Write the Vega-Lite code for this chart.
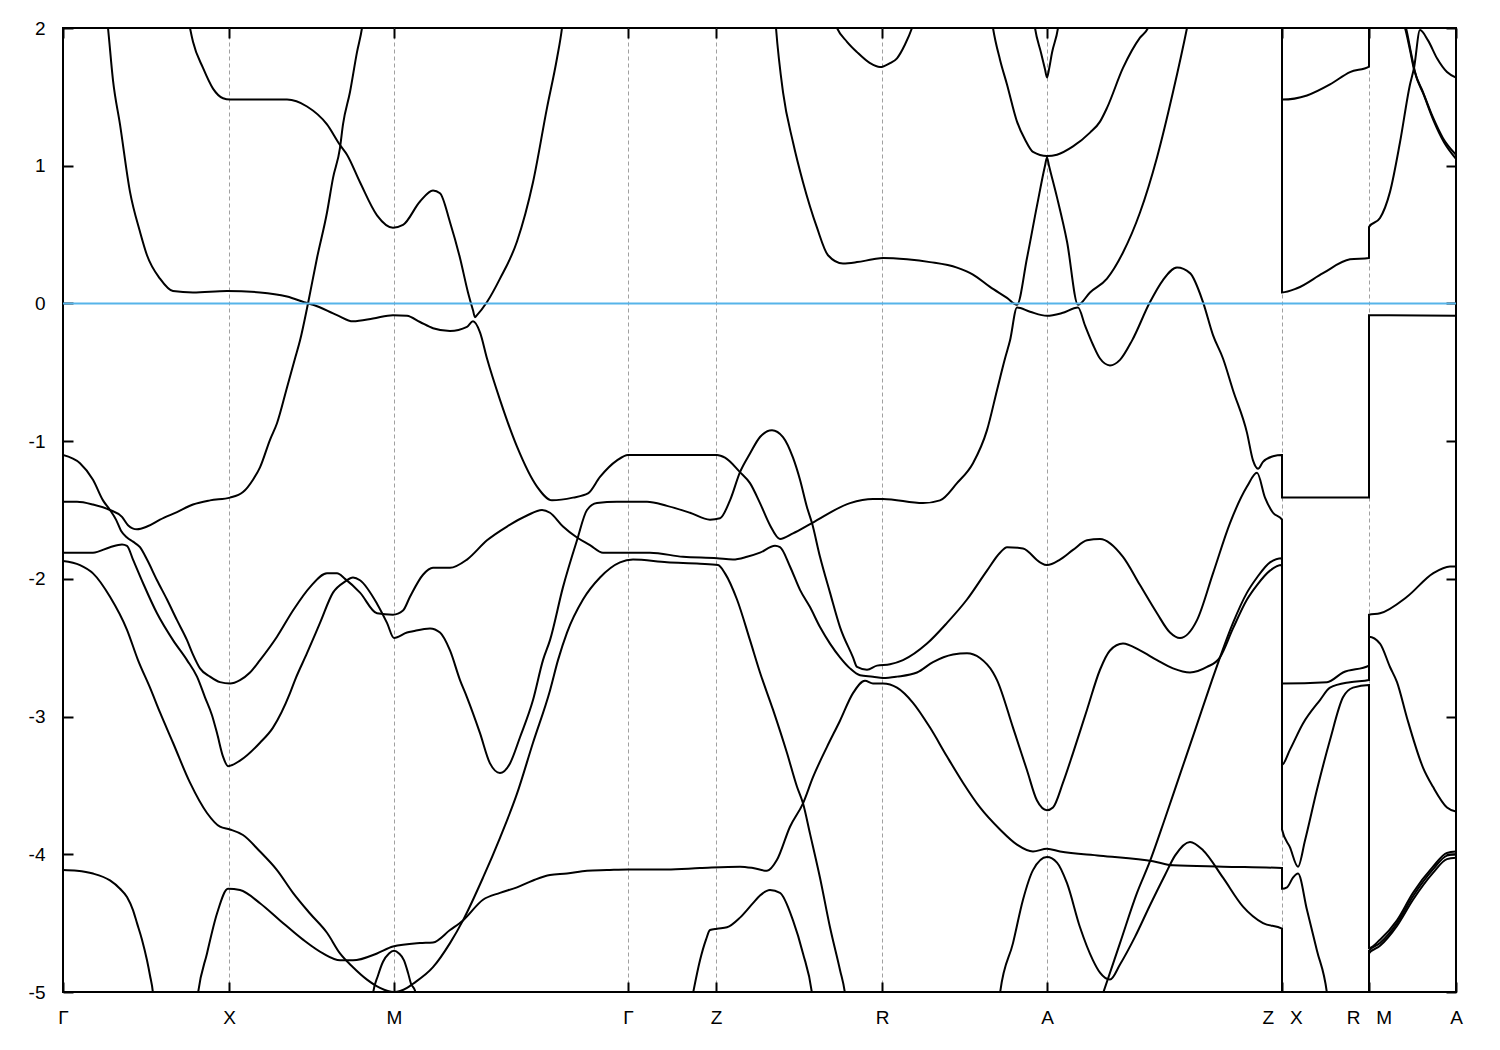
{
"$schema": "https://vega.github.io/schema/vega-lite/v6.json",
"width": 1393, "height": 964,
"autosize": {"type": "none"},
"padding": {"left": 63, "top": 28, "right": 44, "bottom": 58},
"background": "white",
"config": {"view": {"stroke": "black", "strokeWidth": 2}, "font": "Liberation Sans"},
"data": {"values": [
{"s":"a","k":37,"E":2.5},{"s":"a","k":45,"E":2.0},{"s":"a","k":50,"E":1.62},{"s":"a","k":57,"E":1.3},{"s":"a","k":67,"E":0.81},{"s":"a","k":77,"E":0.52},{"s":"a","k":84,"E":0.35},{"s":"a","k":97,"E":0.18},{"s":"a","k":110,"E":0.09},{"s":"a","k":130,"E":0.08},{"s":"a","k":164,"E":0.09},{"s":"a","k":197,"E":0.08},{"s":"a","k":224,"E":0.05},{"s":"a","k":245,"E":0.0},{"s":"a","k":250,"E":-0.01},{"s":"a","k":274,"E":-0.085},{"s":"a","k":290,"E":-0.13},{"s":"a","k":310,"E":-0.11},{"s":"a","k":330,"E":-0.085},{"s":"a","k":344,"E":-0.09},{"s":"a","k":357,"E":-0.135},{"s":"a","k":370,"E":-0.18},{"s":"a","k":387,"E":-0.2},{"s":"a","k":404,"E":-0.17},{"s":"a","k":410,"E":-0.13},{"s":"a","k":417,"E":-0.21},{"s":"a","k":424,"E":-0.4},{"s":"a","k":437,"E":-0.7},{"s":"a","k":454,"E":-1.04},{"s":"a","k":474,"E":-1.33},{"s":"a","k":489,"E":-1.43},{"s":"a","k":510,"E":-1.41},{"s":"a","k":525,"E":-1.38},{"s":"a","k":537,"E":-1.26},{"s":"a","k":554,"E":-1.14},{"s":"a","k":565,"E":-1.1},{"s":"a","k":604,"E":-1.1},{"s":"a","k":654,"E":-1.1},{"s":"a","k":662,"E":-1.12},{"s":"a","k":677,"E":-1.225},{"s":"a","k":687,"E":-1.305},{"s":"a","k":697,"E":-1.45},{"s":"a","k":707,"E":-1.61},{"s":"a","k":717,"E":-1.71},{"s":"a","k":730,"E":-1.67},{"s":"a","k":749,"E":-1.595},{"s":"a","k":787,"E":-1.45},{"s":"a","k":810,"E":-1.42},{"s":"a","k":820,"E":-1.42},{"s":"a","k":860,"E":-1.45},{"s":"a","k":877,"E":-1.43},{"s":"a","k":894,"E":-1.305},{"s":"a","k":910,"E":-1.16},{"s":"a","k":924,"E":-0.92},{"s":"a","k":934,"E":-0.63},{"s":"a","k":942,"E":-0.4},{"s":"a","k":947,"E":-0.27},{"s":"a","k":954,"E":-0.03},{"s":"a","k":967,"E":-0.06},{"s":"a","k":984,"E":-0.09},{"s":"a","k":999,"E":-0.07},{"s":"a","k":1015,"E":-0.03},{"s":"a","k":1022,"E":-0.16},{"s":"a","k":1030,"E":-0.3},{"s":"a","k":1037,"E":-0.4},{"s":"a","k":1047,"E":-0.45},{"s":"a","k":1057,"E":-0.41},{"s":"a","k":1069,"E":-0.27},{"s":"a","k":1087,"E":0.01},{"s":"a","k":1100,"E":0.17},{"s":"a","k":1114,"E":0.26},{"s":"a","k":1127,"E":0.22},{"s":"a","k":1140,"E":0.01},{"s":"a","k":1150,"E":-0.23},{"s":"a","k":1160,"E":-0.4},{"s":"a","k":1170,"E":-0.63},{"s":"a","k":1184,"E":-0.94},{"s":"a","k":1190,"E":-1.14},{"s":"a","k":1195,"E":-1.2},{"s":"a","k":1200,"E":-1.15},{"s":"a","k":1210,"E":-1.11},{"s":"a","k":1219,"E":-1.1},{"s":"a","k":1219,"E":-1.41},{"s":"a","k":1234,"E":-1.41},{"s":"a","k":1267,"E":-1.41},{"s":"a","k":1306,"E":-1.41},{"s":"a","k":1306,"E":-0.085},{"s":"a","k":1319,"E":-0.085},{"s":"a","k":1393,"E":-0.09},
{"s":"b","k":0,"E":-1.44},{"s":"b","k":14,"E":-1.44},{"s":"b","k":30,"E":-1.46},{"s":"b","k":47,"E":-1.5},{"s":"b","k":59,"E":-1.55},{"s":"b","k":65,"E":-1.61},{"s":"b","k":74,"E":-1.64},{"s":"b","k":84,"E":-1.62},{"s":"b","k":97,"E":-1.57},{"s":"b","k":114,"E":-1.515},{"s":"b","k":130,"E":-1.46},{"s":"b","k":147,"E":-1.43},{"s":"b","k":167,"E":-1.41},{"s":"b","k":180,"E":-1.37},{"s":"b","k":190,"E":-1.28},{"s":"b","k":197,"E":-1.19},{"s":"b","k":207,"E":-0.99},{"s":"b","k":214,"E":-0.87},{"s":"b","k":224,"E":-0.61},{"s":"b","k":232,"E":-0.4},{"s":"b","k":237,"E":-0.27},{"s":"b","k":245,"E":0.0},{"s":"b","k":254,"E":0.33},{"s":"b","k":264,"E":0.66},{"s":"b","k":270,"E":0.91},{"s":"b","k":277,"E":1.13},{"s":"b","k":280,"E":1.3},{"s":"b","k":287,"E":1.535},{"s":"b","k":294,"E":1.825},{"s":"b","k":299,"E":2.0},{"s":"b","k":304,"E":2.3},
{"s":"c","k":122,"E":2.2},{"s":"c","k":127,"E":2.0},{"s":"c","k":130,"E":1.9},{"s":"c","k":140,"E":1.71},{"s":"c","k":150,"E":1.56},{"s":"c","k":160,"E":1.49},{"s":"c","k":167,"E":1.48},{"s":"c","k":197,"E":1.48},{"s":"c","k":224,"E":1.48},{"s":"c","k":244,"E":1.43},{"s":"c","k":264,"E":1.3},{"s":"c","k":277,"E":1.15},{"s":"c","k":284,"E":1.08},{"s":"c","k":297,"E":0.88},{"s":"c","k":314,"E":0.64},{"s":"c","k":330,"E":0.55},{"s":"c","k":340,"E":0.57},{"s":"c","k":357,"E":0.74},{"s":"c","k":370,"E":0.82},{"s":"c","k":377,"E":0.8},{"s":"c","k":387,"E":0.59},{"s":"c","k":397,"E":0.33},{"s":"c","k":405,"E":0.08},{"s":"c","k":410,"E":-0.05},{"s":"c","k":412,"E":-0.1},{"s":"c","k":414,"E":-0.085},{"s":"c","k":424,"E":0.01},{"s":"c","k":437,"E":0.18},{"s":"c","k":454,"E":0.45},{"s":"c","k":470,"E":0.88},{"s":"c","k":484,"E":1.42},{"s":"c","k":494,"E":1.78},{"s":"c","k":499,"E":2.0},{"s":"c","k":502,"E":2.2},
{"s":"d","k":711,"E":2.2},{"s":"d","k":713,"E":2.0},{"s":"d","k":720,"E":1.535},{"s":"d","k":730,"E":1.17},{"s":"d","k":740,"E":0.88},{"s":"d","k":754,"E":0.55},{"s":"d","k":765,"E":0.35},{"s":"d","k":780,"E":0.29},{"s":"d","k":794,"E":0.3},{"s":"d","k":810,"E":0.32},{"s":"d","k":820,"E":0.33},{"s":"d","k":844,"E":0.32},{"s":"d","k":867,"E":0.3},{"s":"d","k":894,"E":0.26},{"s":"d","k":910,"E":0.21},{"s":"d","k":927,"E":0.12},{"s":"d","k":944,"E":0.04},{"s":"d","k":954,"E":-0.01},{"s":"d","k":964,"E":0.33},{"s":"d","k":974,"E":0.71},{"s":"d","k":982,"E":1.0},{"s":"d","k":984,"E":1.06},{"s":"d","k":986,"E":1.0},{"s":"d","k":994,"E":0.77},{"s":"d","k":1004,"E":0.45},{"s":"d","k":1015,"E":-0.01},{"s":"d","k":1027,"E":0.08},{"s":"d","k":1044,"E":0.18},{"s":"d","k":1060,"E":0.37},{"s":"d","k":1077,"E":0.66},{"s":"d","k":1094,"E":1.06},{"s":"d","k":1110,"E":1.535},{"s":"d","k":1124,"E":2.0},{"s":"d","k":1132,"E":2.3},{"s":"d","k":1219,"E":3.5},{"s":"d","k":1219,"E":0.08},{"s":"d","k":1234,"E":0.11},{"s":"d","k":1260,"E":0.22},{"s":"d","k":1287,"E":0.32},{"s":"d","k":1306,"E":0.33},{"s":"d","k":1306,"E":0.555},{"s":"d","k":1317,"E":0.62},{"s":"d","k":1327,"E":0.81},{"s":"d","k":1337,"E":1.17},{"s":"d","k":1347,"E":1.59},{"s":"d","k":1351,"E":1.71},{"s":"d","k":1357,"E":1.985},{"s":"d","k":1365,"E":1.91},{"s":"d","k":1374,"E":1.78},{"s":"d","k":1384,"E":1.68},{"s":"d","k":1393,"E":1.64},
{"s":"e","k":1219,"E":3.5},{"s":"e","k":1219,"E":1.48},{"s":"e","k":1244,"E":1.51},{"s":"e","k":1267,"E":1.59},{"s":"e","k":1287,"E":1.68},{"s":"e","k":1306,"E":1.72},{"s":"e","k":1306,"E":2.6},{"s":"e","k":1335,"E":2.1},{"s":"e","k":1342,"E":2.0},{"s":"e","k":1347,"E":1.84},{"s":"e","k":1351,"E":1.7},{"s":"e","k":1360,"E":1.535},{"s":"e","k":1370,"E":1.35},{"s":"e","k":1380,"E":1.2},{"s":"e","k":1393,"E":1.08},
{"s":"f","k":1306,"E":2.6},{"s":"f","k":1336,"E":2.1},{"s":"f","k":1343,"E":2.0},{"s":"f","k":1348,"E":1.82},{"s":"f","k":1352,"E":1.68},{"s":"f","k":1361,"E":1.51},{"s":"f","k":1371,"E":1.32},{"s":"f","k":1381,"E":1.17},{"s":"f","k":1393,"E":1.05},
{"s":"g","k":767,"E":2.15},{"s":"g","k":774,"E":2.0},{"s":"g","k":784,"E":1.9},{"s":"g","k":794,"E":1.825},{"s":"g","k":807,"E":1.745},{"s":"g","k":817,"E":1.716},{"s":"g","k":827,"E":1.745},{"s":"g","k":834,"E":1.78},{"s":"g","k":842,"E":1.88},{"s":"g","k":849,"E":2.0},{"s":"g","k":855,"E":2.15},
{"s":"h","k":967,"E":2.3},{"s":"h","k":972,"E":2.0},{"s":"h","k":978,"E":1.82},{"s":"h","k":982,"E":1.7},{"s":"h","k":984,"E":1.64},{"s":"h","k":986,"E":1.7},{"s":"h","k":989,"E":1.82},{"s":"h","k":995,"E":2.0},{"s":"h","k":1000,"E":2.3},
{"s":"i","k":927,"E":2.15},{"s":"i","k":930,"E":2.0},{"s":"i","k":937,"E":1.77},{"s":"i","k":944,"E":1.59},{"s":"i","k":954,"E":1.32},{"s":"i","k":962,"E":1.19},{"s":"i","k":970,"E":1.1},{"s":"i","k":984,"E":1.07},{"s":"i","k":994,"E":1.08},{"s":"i","k":1010,"E":1.14},{"s":"i","k":1027,"E":1.24},{"s":"i","k":1037,"E":1.32},{"s":"i","k":1044,"E":1.42},{"s":"i","k":1060,"E":1.71},{"s":"i","k":1077,"E":1.93},{"s":"i","k":1085,"E":2.0},{"s":"i","k":1090,"E":2.1},
{"s":"j","k":0,"E":-1.1},{"s":"j","k":17,"E":-1.16},{"s":"j","k":30,"E":-1.28},{"s":"j","k":40,"E":-1.43},{"s":"j","k":47,"E":-1.5},{"s":"j","k":53,"E":-1.57},{"s":"j","k":58,"E":-1.65},{"s":"j","k":64,"E":-1.7},{"s":"j","k":70,"E":-1.73},{"s":"j","k":77,"E":-1.77},{"s":"j","k":84,"E":-1.86},{"s":"j","k":94,"E":-2.01},{"s":"j","k":104,"E":-2.15},{"s":"j","k":114,"E":-2.3},{"s":"j","k":124,"E":-2.445},{"s":"j","k":130,"E":-2.55},{"s":"j","k":137,"E":-2.65},{"s":"j","k":147,"E":-2.71},{"s":"j","k":157,"E":-2.75},{"s":"j","k":167,"E":-2.76},{"s":"j","k":177,"E":-2.735},{"s":"j","k":187,"E":-2.68},{"s":"j","k":197,"E":-2.59},{"s":"j","k":214,"E":-2.42},{"s":"j","k":230,"E":-2.23},{"s":"j","k":247,"E":-2.06},{"s":"j","k":264,"E":-1.96},{"s":"j","k":274,"E":-1.96},{"s":"j","k":282,"E":-2.0},{"s":"j","k":297,"E":-2.1},{"s":"j","k":314,"E":-2.25},{"s":"j","k":330,"E":-2.26},{"s":"j","k":340,"E":-2.23},{"s":"j","k":347,"E":-2.13},{"s":"j","k":360,"E":-1.97},{"s":"j","k":370,"E":-1.92},{"s":"j","k":387,"E":-1.92},{"s":"j","k":404,"E":-1.86},{"s":"j","k":424,"E":-1.72},{"s":"j","k":444,"E":-1.62},{"s":"j","k":464,"E":-1.54},{"s":"j","k":479,"E":-1.5},{"s":"j","k":487,"E":-1.52},{"s":"j","k":500,"E":-1.62},{"s":"j","k":514,"E":-1.7},{"s":"j","k":527,"E":-1.755},{"s":"j","k":540,"E":-1.81},{"s":"j","k":564,"E":-1.81},{"s":"j","k":587,"E":-1.81},{"s":"j","k":620,"E":-1.84},{"s":"j","k":654,"E":-1.85},{"s":"j","k":670,"E":-1.86},{"s":"j","k":684,"E":-1.84},{"s":"j","k":697,"E":-1.81},{"s":"j","k":712,"E":-1.76},{"s":"j","k":717,"E":-1.77},{"s":"j","k":727,"E":-1.91},{"s":"j","k":737,"E":-2.08},{"s":"j","k":747,"E":-2.205},{"s":"j","k":757,"E":-2.35},{"s":"j","k":767,"E":-2.47},{"s":"j","k":777,"E":-2.57},{"s":"j","k":787,"E":-2.65},{"s":"j","k":797,"E":-2.7},{"s":"j","k":810,"E":-2.71},{"s":"j","k":820,"E":-2.72},{"s":"j","k":834,"E":-2.71},{"s":"j","k":854,"E":-2.68},{"s":"j","k":870,"E":-2.605},{"s":"j","k":890,"E":-2.55},{"s":"j","k":904,"E":-2.54},{"s":"j","k":917,"E":-2.575},{"s":"j","k":930,"E":-2.68},{"s":"j","k":934,"E":-2.735},{"s":"j","k":950,"E":-3.08},{"s":"j","k":964,"E":-3.39},{"s":"j","k":974,"E":-3.61},{"s":"j","k":984,"E":-3.68},{"s":"j","k":990,"E":-3.66},{"s":"j","k":1000,"E":-3.48},{"s":"j","k":1010,"E":-3.265},{"s":"j","k":1024,"E":-2.95},{"s":"j","k":1037,"E":-2.66},{"s":"j","k":1047,"E":-2.52},{"s":"j","k":1060,"E":-2.47},{"s":"j","k":1077,"E":-2.52},{"s":"j","k":1094,"E":-2.59},{"s":"j","k":1110,"E":-2.65},{"s":"j","k":1127,"E":-2.68},{"s":"j","k":1144,"E":-2.64},{"s":"j","k":1157,"E":-2.57},{"s":"j","k":1170,"E":-2.36},{"s":"j","k":1184,"E":-2.15},{"s":"j","k":1194,"E":-2.045},{"s":"j","k":1207,"E":-1.94},{"s":"j","k":1219,"E":-1.9},{"s":"j","k":1219,"E":-3.82},{"s":"j","k":1227,"E":-3.95},{"s":"j","k":1235,"E":-4.09},{"s":"j","k":1242,"E":-3.9},{"s":"j","k":1254,"E":-3.53},{"s":"j","k":1267,"E":-3.17},{"s":"j","k":1280,"E":-2.86},{"s":"j","k":1290,"E":-2.79},{"s":"j","k":1306,"E":-2.77},{"s":"j","k":1306,"E":-4.68},{"s":"j","k":1317,"E":-4.62},{"s":"j","k":1334,"E":-4.48},{"s":"j","k":1350,"E":-4.28},{"s":"j","k":1370,"E":-4.09},{"s":"j","k":1384,"E":-3.99},{"s":"j","k":1393,"E":-3.98},
{"s":"k","k":0,"E":-1.81},{"s":"k","k":14,"E":-1.81},{"s":"k","k":30,"E":-1.81},{"s":"k","k":47,"E":-1.77},{"s":"k","k":59,"E":-1.75},{"s":"k","k":64,"E":-1.76},{"s":"k","k":70,"E":-1.86},{"s":"k","k":80,"E":-2.03},{"s":"k","k":94,"E":-2.25},{"s":"k","k":110,"E":-2.445},{"s":"k","k":124,"E":-2.59},{"s":"k","k":134,"E":-2.71},{"s":"k","k":142,"E":-2.86},{"s":"k","k":149,"E":-2.99},{"s":"k","k":154,"E":-3.12},{"s":"k","k":160,"E":-3.29},{"s":"k","k":165,"E":-3.36},{"s":"k","k":177,"E":-3.32},{"s":"k","k":197,"E":-3.19},{"s":"k","k":210,"E":-3.08},{"s":"k","k":227,"E":-2.83},{"s":"k","k":232,"E":-2.735},{"s":"k","k":244,"E":-2.54},{"s":"k","k":257,"E":-2.32},{"s":"k","k":270,"E":-2.1},{"s":"k","k":282,"E":-2.02},{"s":"k","k":290,"E":-1.99},{"s":"k","k":297,"E":-2.01},{"s":"k","k":314,"E":-2.18},{"s":"k","k":324,"E":-2.32},{"s":"k","k":331,"E":-2.43},{"s":"k","k":344,"E":-2.39},{"s":"k","k":350,"E":-2.38},{"s":"k","k":367,"E":-2.36},{"s":"k","k":377,"E":-2.39},{"s":"k","k":387,"E":-2.52},{"s":"k","k":397,"E":-2.735},{"s":"k","k":404,"E":-2.86},{"s":"k","k":417,"E":-3.12},{"s":"k","k":427,"E":-3.34},{"s":"k","k":437,"E":-3.41},{"s":"k","k":447,"E":-3.34},{"s":"k","k":457,"E":-3.15},{"s":"k","k":470,"E":-2.88},{"s":"k","k":480,"E":-2.59},{"s":"k","k":487,"E":-2.445},{"s":"k","k":500,"E":-2.06},{"s":"k","k":514,"E":-1.72},{"s":"k","k":524,"E":-1.5},{"s":"k","k":534,"E":-1.45},{"s":"k","k":554,"E":-1.44},{"s":"k","k":584,"E":-1.44},{"s":"k","k":604,"E":-1.47},{"s":"k","k":627,"E":-1.52},{"s":"k","k":647,"E":-1.57},{"s":"k","k":657,"E":-1.56},{"s":"k","k":667,"E":-1.43},{"s":"k","k":677,"E":-1.225},{"s":"k","k":687,"E":-1.09},{"s":"k","k":697,"E":-0.97},{"s":"k","k":709,"E":-0.92},{"s":"k","k":720,"E":-0.97},{"s":"k","k":730,"E":-1.12},{"s":"k","k":737,"E":-1.28},{"s":"k","k":744,"E":-1.48},{"s":"k","k":749,"E":-1.595},{"s":"k","k":757,"E":-1.84},{"s":"k","k":767,"E":-2.1},{"s":"k","k":777,"E":-2.35},{"s":"k","k":790,"E":-2.57},{"s":"k","k":794,"E":-2.64},{"s":"k","k":804,"E":-2.66},{"s":"k","k":814,"E":-2.63},{"s":"k","k":827,"E":-2.62},{"s":"k","k":840,"E":-2.59},{"s":"k","k":864,"E":-2.47},{"s":"k","k":884,"E":-2.32},{"s":"k","k":904,"E":-2.15},{"s":"k","k":924,"E":-1.94},{"s":"k","k":937,"E":-1.81},{"s":"k","k":944,"E":-1.77},{"s":"k","k":960,"E":-1.78},{"s":"k","k":977,"E":-1.88},{"s":"k","k":984,"E":-1.9},{"s":"k","k":997,"E":-1.86},{"s":"k","k":1010,"E":-1.79},{"s":"k","k":1024,"E":-1.72},{"s":"k","k":1037,"E":-1.71},{"s":"k","k":1060,"E":-1.84},{"s":"k","k":1077,"E":-2.045},{"s":"k","k":1094,"E":-2.25},{"s":"k","k":1107,"E":-2.39},{"s":"k","k":1117,"E":-2.43},{"s":"k","k":1134,"E":-2.3},{"s":"k","k":1150,"E":-1.96},{"s":"k","k":1167,"E":-1.595},{"s":"k","k":1184,"E":-1.33},{"s":"k","k":1194,"E":-1.23},{"s":"k","k":1202,"E":-1.41},{"s":"k","k":1210,"E":-1.52},{"s":"k","k":1219,"E":-1.57},{"s":"k","k":1219,"E":-2.76},{"s":"k","k":1264,"E":-2.75},{"s":"k","k":1280,"E":-2.68},{"s":"k","k":1306,"E":-2.63},{"s":"k","k":1306,"E":-2.26},{"s":"k","k":1317,"E":-2.25},{"s":"k","k":1344,"E":-2.13},{"s":"k","k":1370,"E":-1.96},{"s":"k","k":1387,"E":-1.91},{"s":"k","k":1393,"E":-1.91},
{"s":"l","k":0,"E":-1.87},{"s":"l","k":17,"E":-1.9},{"s":"l","k":30,"E":-1.96},{"s":"l","k":47,"E":-2.13},{"s":"l","k":64,"E":-2.37},{"s":"l","k":75,"E":-2.59},{"s":"l","k":87,"E":-2.79},{"s":"l","k":97,"E":-2.97},{"s":"l","k":110,"E":-3.19},{"s":"l","k":127,"E":-3.48},{"s":"l","k":144,"E":-3.7},{"s":"l","k":157,"E":-3.8},{"s":"l","k":167,"E":-3.82},{"s":"l","k":180,"E":-3.86},{"s":"l","k":197,"E":-3.98},{"s":"l","k":214,"E":-4.115},{"s":"l","k":230,"E":-4.28},{"s":"l","k":247,"E":-4.43},{"s":"l","k":264,"E":-4.57},{"s":"l","k":277,"E":-4.72},{"s":"l","k":290,"E":-4.82},{"s":"l","k":304,"E":-4.91},{"s":"l","k":317,"E":-4.97},{"s":"l","k":331,"E":-5.0},{"s":"l","k":344,"E":-4.97},{"s":"l","k":350,"E":-4.94},{"s":"l","k":370,"E":-4.82},{"s":"l","k":387,"E":-4.645},{"s":"l","k":400,"E":-4.48},{"s":"l","k":420,"E":-4.17},{"s":"l","k":437,"E":-3.88},{"s":"l","k":454,"E":-3.56},{"s":"l","k":470,"E":-3.19},{"s":"l","k":487,"E":-2.81},{"s":"l","k":495,"E":-2.59},{"s":"l","k":504,"E":-2.39},{"s":"l","k":520,"E":-2.15},{"s":"l","k":537,"E":-1.99},{"s":"l","k":557,"E":-1.88},{"s":"l","k":570,"E":-1.86},{"s":"l","k":604,"E":-1.88},{"s":"l","k":637,"E":-1.89},{"s":"l","k":655,"E":-1.9},{"s":"l","k":662,"E":-1.96},{"s":"l","k":674,"E":-2.15},{"s":"l","k":687,"E":-2.445},{"s":"l","k":697,"E":-2.68},{"s":"l","k":710,"E":-2.95},{"s":"l","k":724,"E":-3.265},{"s":"l","k":734,"E":-3.51},{"s":"l","k":740,"E":-3.63},{"s":"l","k":747,"E":-3.85},{"s":"l","k":757,"E":-4.17},{"s":"l","k":767,"E":-4.53},{"s":"l","k":777,"E":-4.84},{"s":"l","k":782,"E":-5.01},{"s":"l","k":785,"E":-5.2},
{"s":"m","k":132,"E":-5.2},{"s":"m","k":135,"E":-5.01},{"s":"m","k":144,"E":-4.72},{"s":"m","k":154,"E":-4.43},{"s":"m","k":165,"E":-4.25},{"s":"m","k":177,"E":-4.26},{"s":"m","k":197,"E":-4.355},{"s":"m","k":217,"E":-4.48},{"s":"m","k":240,"E":-4.62},{"s":"m","k":260,"E":-4.72},{"s":"m","k":277,"E":-4.77},{"s":"m","k":290,"E":-4.77},{"s":"m","k":314,"E":-4.72},{"s":"m","k":330,"E":-4.67},{"s":"m","k":357,"E":-4.645},{"s":"m","k":370,"E":-4.64},{"s":"m","k":387,"E":-4.55},{"s":"m","k":400,"E":-4.48},{"s":"m","k":420,"E":-4.33},{"s":"m","k":437,"E":-4.28},{"s":"m","k":454,"E":-4.24},{"s":"m","k":470,"E":-4.19},{"s":"m","k":487,"E":-4.15},{"s":"m","k":504,"E":-4.14},{"s":"m","k":524,"E":-4.12},{"s":"m","k":544,"E":-4.115},{"s":"m","k":565,"E":-4.11},{"s":"m","k":604,"E":-4.11},{"s":"m","k":637,"E":-4.1},{"s":"m","k":677,"E":-4.09},{"s":"m","k":690,"E":-4.1},{"s":"m","k":704,"E":-4.12},{"s":"m","k":714,"E":-4.04},{"s":"m","k":727,"E":-3.8},{"s":"m","k":740,"E":-3.63},{"s":"m","k":750,"E":-3.44},{"s":"m","k":764,"E":-3.22},{"s":"m","k":777,"E":-3.03},{"s":"m","k":790,"E":-2.83},{"s":"m","k":802,"E":-2.74},{"s":"m","k":810,"E":-2.76},{"s":"m","k":820,"E":-2.76},{"s":"m","k":834,"E":-2.79},{"s":"m","k":850,"E":-2.9},{"s":"m","k":867,"E":-3.08},{"s":"m","k":884,"E":-3.29},{"s":"m","k":900,"E":-3.48},{"s":"m","k":917,"E":-3.66},{"s":"m","k":937,"E":-3.82},{"s":"m","k":954,"E":-3.93},{"s":"m","k":970,"E":-3.98},{"s":"m","k":984,"E":-3.96},{"s":"m","k":997,"E":-3.98},{"s":"m","k":1037,"E":-4.01},{"s":"m","k":1090,"E":-4.05},{"s":"m","k":1110,"E":-4.08},{"s":"m","k":1160,"E":-4.09},{"s":"m","k":1219,"E":-4.1},{"s":"m","k":1219,"E":-4.25},{"s":"m","k":1224,"E":-4.24},{"s":"m","k":1230,"E":-4.17},{"s":"m","k":1235,"E":-4.14},{"s":"m","k":1244,"E":-4.405},{"s":"m","k":1254,"E":-4.7},{"s":"m","k":1264,"E":-5.01},{"s":"m","k":1267,"E":-5.2},
{"s":"n","k":0,"E":-4.115},{"s":"n","k":14,"E":-4.12},{"s":"n","k":30,"E":-4.14},{"s":"n","k":47,"E":-4.19},{"s":"n","k":57,"E":-4.25},{"s":"n","k":64,"E":-4.31},{"s":"n","k":70,"E":-4.405},{"s":"n","k":74,"E":-4.5},{"s":"n","k":79,"E":-4.62},{"s":"n","k":84,"E":-4.77},{"s":"n","k":87,"E":-4.88},{"s":"n","k":90,"E":-5.01},{"s":"n","k":92,"E":-5.2},
{"s":"o","k":307,"E":-5.2},{"s":"o","k":310,"E":-5.01},{"s":"o","k":315,"E":-4.88},{"s":"o","k":320,"E":-4.78},{"s":"o","k":326,"E":-4.72},{"s":"o","k":331,"E":-4.7},{"s":"o","k":336,"E":-4.72},{"s":"o","k":341,"E":-4.77},{"s":"o","k":345,"E":-4.86},{"s":"o","k":348,"E":-4.94},{"s":"o","k":352,"E":-4.99},{"s":"o","k":355,"E":-5.2},
{"s":"p","k":625,"E":-5.2},{"s":"p","k":630,"E":-5.01},{"s":"p","k":637,"E":-4.77},{"s":"p","k":643,"E":-4.62},{"s":"p","k":647,"E":-4.55},{"s":"p","k":654,"E":-4.54},{"s":"p","k":664,"E":-4.53},{"s":"p","k":677,"E":-4.46},{"s":"p","k":690,"E":-4.355},{"s":"p","k":697,"E":-4.3},{"s":"p","k":707,"E":-4.26},{"s":"p","k":717,"E":-4.28},{"s":"p","k":730,"E":-4.48},{"s":"p","k":740,"E":-4.72},{"s":"p","k":749,"E":-5.01},{"s":"p","k":752,"E":-5.2},
{"s":"q","k":934,"E":-5.2},{"s":"q","k":937,"E":-5.01},{"s":"q","k":950,"E":-4.645},{"s":"q","k":960,"E":-4.33},{"s":"q","k":970,"E":-4.115},{"s":"q","k":984,"E":-4.02},{"s":"q","k":994,"E":-4.06},{"s":"q","k":1004,"E":-4.21},{"s":"q","k":1017,"E":-4.53},{"s":"q","k":1030,"E":-4.77},{"s":"q","k":1037,"E":-4.86},{"s":"q","k":1047,"E":-4.91},{"s":"q","k":1057,"E":-4.8},{"s":"q","k":1072,"E":-4.6},{"s":"q","k":1087,"E":-4.37},{"s":"q","k":1102,"E":-4.15},{"s":"q","k":1112,"E":-4.01},{"s":"q","k":1127,"E":-3.91},{"s":"q","k":1140,"E":-3.97},{"s":"q","k":1160,"E":-4.17},{"s":"q","k":1180,"E":-4.38},{"s":"q","k":1200,"E":-4.5},{"s":"q","k":1219,"E":-4.54},{"s":"q","k":1219,"E":-5.3},
{"s":"r","k":1031,"E":-5.2},{"s":"r","k":1040,"E":-5.01},{"s":"r","k":1057,"E":-4.645},{"s":"r","k":1074,"E":-4.28},{"s":"r","k":1087,"E":-4.05},{"s":"r","k":1102,"E":-3.74},{"s":"r","k":1117,"E":-3.42},{"s":"r","k":1132,"E":-3.1},{"s":"r","k":1149,"E":-2.735},{"s":"r","k":1157,"E":-2.57},{"s":"r","k":1170,"E":-2.32},{"s":"r","k":1184,"E":-2.1},{"s":"r","k":1194,"E":-1.99},{"s":"r","k":1207,"E":-1.88},{"s":"r","k":1219,"E":-1.85},{"s":"r","k":1219,"E":-3.35},{"s":"r","k":1227,"E":-3.24},{"s":"r","k":1240,"E":-3.05},{"s":"r","k":1257,"E":-2.88},{"s":"r","k":1267,"E":-2.79},{"s":"r","k":1287,"E":-2.75},{"s":"r","k":1306,"E":-2.735},{"s":"r","k":1306,"E":-2.42},{"s":"r","k":1317,"E":-2.47},{"s":"r","k":1327,"E":-2.64},{"s":"r","k":1334,"E":-2.75},{"s":"r","k":1344,"E":-3.01},{"s":"r","k":1360,"E":-3.37},{"s":"r","k":1370,"E":-3.51},{"s":"r","k":1384,"E":-3.66},{"s":"r","k":1393,"E":-3.69},
{"s":"s","k":1306,"E":-5.3},{"s":"s","k":1306,"E":-4.7},{"s":"s","k":1317,"E":-4.645},{"s":"s","k":1334,"E":-4.5},{"s":"s","k":1350,"E":-4.305},{"s":"s","k":1370,"E":-4.11},{"s":"s","k":1384,"E":-4.01},{"s":"s","k":1393,"E":-4.0},
{"s":"t","k":1306,"E":-5.3},{"s":"t","k":1306,"E":-4.72},{"s":"t","k":1317,"E":-4.665},{"s":"t","k":1334,"E":-4.52},{"s":"t","k":1350,"E":-4.33},{"s":"t","k":1370,"E":-4.135},{"s":"t","k":1384,"E":-4.035},{"s":"t","k":1393,"E":-4.025}
]},
"transform": [{"window": [{"op": "row_number", "as": "i"}]}],
"layer": [
{
"mark": {"type": "line", "color": "black", "strokeWidth": 2, "clip": true, "interpolate": "monotone"},
"encoding": {
"x": {"field": "k", "type": "quantitative", "scale": {"domain": [0, 1393], "nice": false, "zero": false},
"axis": {"title": null, "orient": "bottom", "values": [0, 166, 331, 565, 653, 819, 984, 1219, 1306, 1393],
"labelExpr": "datum.value == 0 ? 'Γ' : datum.value == 166 ? 'X' : datum.value == 331 ? 'M' : datum.value == 565 ? 'Γ' : datum.value == 653 ? 'Z' : datum.value == 819 ? 'R' : datum.value == 984 ? 'A' : datum.value == 1219 ? 'Z\u00a0\u00a0\u00a0X' : datum.value == 1306 ? 'R\u00a0\u00a0\u00a0M' : 'A'",
"labelFontSize": 19, "labelColor": "black", "labelFont": "Liberation Sans", "labelPadding": 26, "labelFlush": false,
"tickSize": -10, "tickColor": "black", "tickWidth": 2, "domain": false,
"grid": true, "gridColor": "#a0a0a0", "gridDash": [4, 3], "gridWidth": 1,
"gridOpacity": {"condition": {"test": "datum.value == 0 || datum.value == 1393", "value": 0}, "value": 1}}},
"y": {"field": "E", "type": "quantitative", "scale": {"domain": [-5, 2], "nice": false, "zero": false},
"axis": {"title": null, "orient": "left", "values": [-5, -4, -3, -2, -1, 0, 1, 2],
"labelExpr": "datum.value < 0 ? '-' + abs(datum.value) : '' + datum.value",
"labelFontSize": 19, "labelColor": "black", "labelFont": "Liberation Sans", "labelPadding": 28,
"tickSize": -10, "tickColor": "black", "tickWidth": 2, "domain": false, "grid": false}},
"detail": {"field": "s"},
"order": {"field": "i", "type": "quantitative"}
}
},
{
"mark": {"type": "line", "opacity": 0, "clip": true},
"encoding": {
"x": {"field": "k", "type": "quantitative", "axis": {"title": null, "orient": "top", "values": [0, 166, 331, 565, 653, 819, 984, 1219, 1306, 1393], "labels": false, "tickSize": -10, "tickColor": "black", "tickWidth": 2, "domain": false, "grid": false}},
"y": {"field": "E", "type": "quantitative", "axis": {"title": null, "orient": "right", "values": [-5, -4, -3, -2, -1, 0, 1, 2], "labels": false, "tickSize": -10, "tickColor": "black", "tickWidth": 2, "domain": false, "grid": false}},
"detail": {"field": "s"},
"order": {"field": "i", "type": "quantitative"}
}
},
{
"data": {"values": [{"E": 0}]},
"mark": {"type": "rule", "color": "#56b4e9", "strokeWidth": 2},
"encoding": {"y": {"field": "E", "type": "quantitative", "axis": null}}
}
],
"resolve": {"axis": {"x": "independent", "y": "independent"}}
}
